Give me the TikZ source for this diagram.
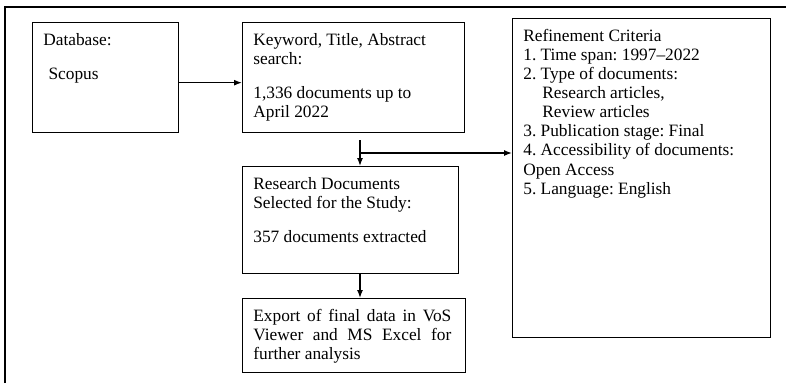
\documentclass[tikz,border=0pt]{standalone}
\usepackage{fontspec}
\setmainfont{Liberation Serif}
\usetikzlibrary{arrows.meta}
\frenchspacing

\begin{document}
\begin{tikzpicture}[x=0.75pt,y=-0.75pt,->,>={Latex[length=6pt,width=4.5pt]},line width=1pt,
  box node/.style={draw,rectangle,anchor=north west,inner sep=0pt},
  text node/.style={anchor=north west,align=left,inner xsep=8pt,inner ysep=8pt,font=\fontsize{13}{14.3}\selectfont}]

      \useasboundingbox (0,0) rectangle (786,383);
      \draw[-,line width=1.2pt] (5,383) -- (5,7) -- (786,7);

      \node[box node,minimum width=109.5pt,minimum height=82.5pt] at (32,22) (db) {};
      \node[text node] at (db.north west) (dbtext) {Database:\\[11pt]\hspace*{0.3em}Scopus};

      \node[box node,minimum width=166.5pt,minimum height=82.5pt] at (242,22) (kw) {};
      \node[text node] at (kw.north west) (kwtext) {Keyword, Title, Abstract\\ search:\\[11pt]1,336 documents up to\\ April 2022};

      \node[box node,minimum width=162pt,minimum height=80.25pt] at (242,166) (rd) {};
      \node[text node] at (rd.north west) (rdtext) {Research Documents\\ Selected for the Study:\\[11pt]357 documents extracted};

      \node[box node,minimum width=167.25pt,minimum height=55.5pt] at (242,298) (ex) {};
      \node[text node,text width=148.5pt,align=justify] at (ex.north west) (extext) {Export of final data in VoS\linebreak Viewer and MS Excel for\linebreak further analysis};

      \node[box node,minimum width=193.5pt,minimum height=239.25pt] at (512,18) (rc) {};
      \node[text node] at (rc.north west) (rctext) {Refinement Criteria\\ 1. Time span: 1997--2022\\ 2. Type of documents:\\ \hspace*{1.1em}Research articles,\\ \hspace*{1.1em}Review articles\\ 3. Publication stage: Final\\ 4. Accessibility of documents:\\ Open Access\\ 5. Language: English};

      \coordinate (kwout) at (360,140);
      \coordinate (split) at (360,153);

      \draw ([yshift=-3.75pt]db.east) -- ([yshift=-3.75pt]kw.west);
      \draw (kwout) -- (kwout |- rd.north);
      \draw (split) -- (split -| rc.west);
      \draw (rd.south -| kwout) -- (ex.north -| kwout);

    \end{tikzpicture}
\end{document}
